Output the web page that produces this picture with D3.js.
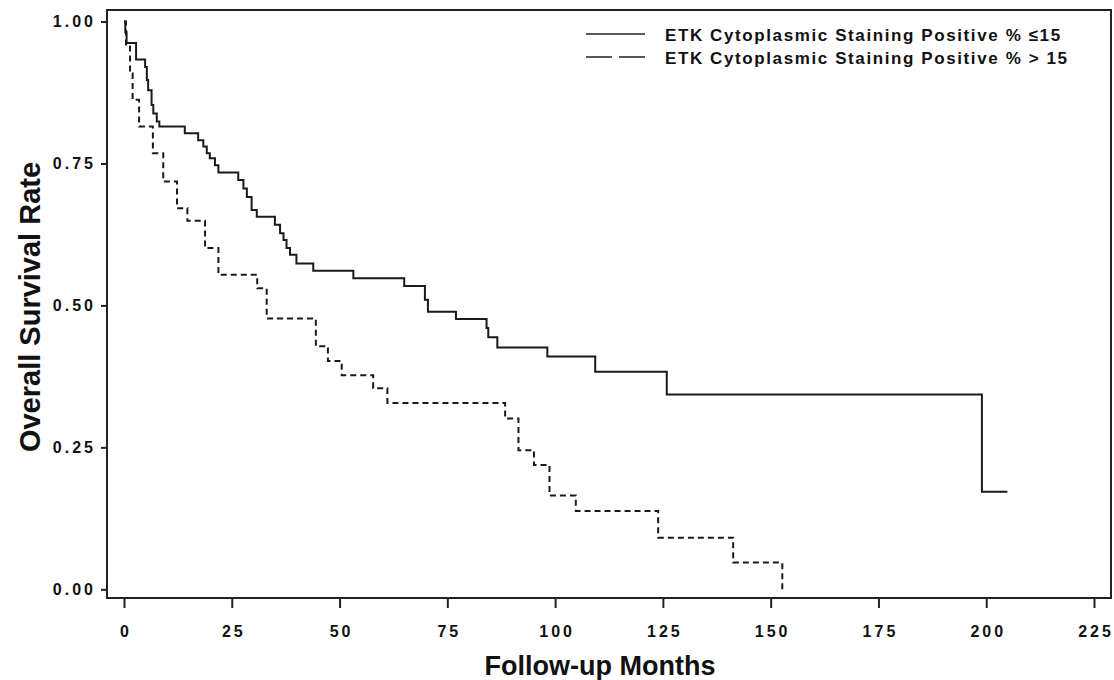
<!DOCTYPE html>
<html>
<head>
<meta charset="utf-8">
<script src="https://cdn.jsdelivr.net/npm/d3@7"></script>
<style>
  body { margin: 0; background: #fff; }
  svg { display: block; }
  .tick text { font-family: "Liberation Sans", Arial, sans-serif; font-weight: bold; font-size: 16px; letter-spacing: 3px; fill: #111; }
  .tick line { stroke: #222; stroke-width: 2px; }
</style>
</head>
<body>
<svg id="chart" width="1114" height="680"></svg>
<script>
// survival estimates (months, rate)
var lowTimes = [0, 0.3, 0.6, 2.8, 4.9, 5.3, 5.6, 6.4, 6.8, 7.6, 8.2, 14.1, 17.2, 18.4, 19.2, 19.9, 21.1, 21.9, 26.5, 27.7,
  28.5, 29.6, 30.8, 35.0, 36.2, 37.0, 37.7, 38.5, 40.0, 43.9, 53.2, 65.0, 69.8, 70.5, 77.0, 84.1, 84.5, 86.6, 98.2, 109.3,
  125.9, 199.0, 204.9];
var lowSurv = [1.0, 0.981, 0.962, 0.933, 0.920, 0.897, 0.879, 0.853, 0.838, 0.824, 0.815, 0.803, 0.791, 0.780, 0.768, 0.759, 0.747, 0.734, 0.721, 0.706,
  0.691, 0.668, 0.656, 0.642, 0.627, 0.615, 0.601, 0.589, 0.574, 0.561, 0.548, 0.534, 0.510, 0.489, 0.476, 0.460, 0.444, 0.426, 0.410, 0.383,
  0.343, 0.172, 0.172];

var highTimes = [0, 0.46, 1.4, 2.0, 3.5, 6.7, 9.1, 12.3, 14.7, 18.8, 21.9, 30.9, 33.1, 44.5, 47.3, 50.5, 57.8, 61.1, 88.4, 91.5,
  95.1, 98.7, 104.8, 123.9, 141.3, 152.7];
var highSurv = [1.0, 0.956, 0.909, 0.862, 0.815, 0.768, 0.718, 0.671, 0.649, 0.601, 0.554, 0.530, 0.477, 0.428, 0.402, 0.377, 0.354, 0.328, 0.301, 0.245,
  0.219, 0.165, 0.138, 0.091, 0.047, 0.0];

var xTicks = [0, 25, 50, 75, 100, 125, 150, 175, 200, 225];
var yTicks = [0, 0.25, 0.5, 0.75, 1];
var legendLabels = ['ETK Cytoplasmic Staining Positive % \u226415', 'ETK Cytoplasmic Staining Positive % > 15'];

var svg = d3.select('#chart');
var frame = {left: 107, top: 10, right: 1111, bottom: 598};

var x = d3.scaleLinear().domain([0, 225]).range([124, 1094]);
var y = d3.scaleLinear().domain([0, 1]).range([589.3, 21.5]);

// plot frame
svg.append('rect')
  .attr('x', frame.left).attr('y', frame.top)
  .attr('width', frame.right - frame.left).attr('height', frame.bottom - frame.top)
  .attr('fill', 'none').attr('stroke', '#222').attr('stroke-width', 2);

// axes
var yAxis = svg.append('g')
  .attr('transform', 'translate(' + frame.left + ',0)')
  .call(d3.axisLeft(y).tickValues(yTicks).tickFormat(d3.format('.2f')).tickSize(6).tickPadding(5));
yAxis.select('.domain').remove();

var xAxis = svg.append('g')
  .attr('transform', 'translate(0,' + frame.bottom + ')')
  .call(d3.axisBottom(x).tickValues(xTicks).tickFormat(d3.format('d')).tickSize(10).tickPadding(18));
xAxis.select('.domain').remove();
xAxis.selectAll('.tick text').attr('dx', '1.5px');

// curves
function toPoints(times, surv) {
  return times.map(function (t, i) { return {t: t, s: surv[i]}; });
}
var line = d3.line()
  .x(function (d) { return x(d.t); })
  .y(function (d) { return y(d.s); })
  .curve(d3.curveStepAfter);

svg.append('path')
  .datum(toPoints(lowTimes, lowSurv))
  .attr('d', line)
  .attr('fill', 'none').attr('stroke', '#1a1a1a').attr('stroke-width', 2);

svg.append('path')
  .datum(toPoints(highTimes, highSurv))
  .attr('d', line)
  .attr('fill', 'none').attr('stroke', '#1a1a1a').attr('stroke-width', 2)
  .attr('stroke-dasharray', '6,4');

// legend
var legend = svg.append('g').attr('font-family', 'Liberation Sans, Arial, sans-serif')
  .attr('font-weight', 'bold').attr('font-size', '17px').attr('fill', '#111')
  .attr('letter-spacing', '1.6px');
legendLabels.forEach(function (label, i) {
  var ly = 34 + i * 23;
  legend.append('line')
    .attr('x1', 586).attr('x2', 645).attr('y1', ly).attr('y2', ly)
    .attr('stroke', '#222').attr('stroke-width', 1.5)
    .attr('stroke-dasharray', i === 0 ? null : '26,7');
  legend.append('text')
    .attr('x', 665).attr('y', ly + 7)
    .text(label);
});

// axis titles
svg.append('text')
  .attr('x', 600).attr('y', 675)
  .attr('text-anchor', 'middle')
  .attr('font-family', 'Liberation Sans, Arial, sans-serif')
  .attr('font-weight', 'bold').attr('font-size', '27px').attr('fill', '#111')
  .text('Follow-up Months');

svg.append('text')
  .attr('transform', 'translate(40,307) rotate(-90)')
  .attr('text-anchor', 'middle')
  .attr('font-family', 'Liberation Sans, Arial, sans-serif')
  .attr('font-weight', 'bold').attr('font-size', '29px').attr('fill', '#111')
  .text('Overall Survival Rate');
</script>
</body>
</html>
